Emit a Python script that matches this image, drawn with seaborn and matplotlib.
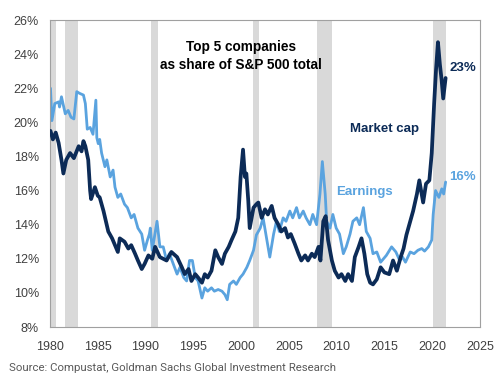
import numpy as np
import pandas as pd
import seaborn as sns
from matplotlib import pyplot as plt

# Top 5 companies as share of S&P 500 total (%)
mcap_year = [1980.05, 1980.3, 1980.6, 1980.9, 1981.2, 1981.4, 1981.7, 1982.1, 1982.5, 1983.0,
             1983.3, 1983.5, 1983.7, 1984.0, 1984.2, 1984.3, 1984.7, 1985.0, 1985.2, 1985.6,
             1986.1, 1986.5, 1986.8, 1987.1, 1987.3, 1987.8, 1988.2, 1988.5, 1988.9, 1989.2,
             1989.6, 1989.9, 1990.3, 1990.7, 1991.0, 1991.5, 1992.2, 1992.7, 1993.3, 1993.8,
             1994.1, 1994.5, 1994.8, 1995.2, 1995.5, 1995.9, 1996.2, 1996.5, 1996.9, 1997.3,
             1997.6, 1998.0, 1998.3, 1998.7, 1999.0, 1999.4, 1999.7, 1999.95, 2000.2, 2000.4,
             2000.55, 2000.75, 2000.9, 2001.3, 2001.6, 2001.8, 2002.15, 2002.5, 2002.8, 2003.2,
             2003.5, 2003.9, 2004.2, 2004.6, 2004.9, 2005.2, 2005.6, 2006.0, 2006.3, 2006.7,
             2007.0, 2007.4, 2007.7, 2008.1, 2008.3, 2008.6, 2008.85, 2009.1, 2009.5, 2009.8,
             2010.2, 2010.5, 2010.9, 2011.2, 2011.6, 2011.9, 2012.3, 2012.6, 2012.9, 2013.2,
             2013.5, 2013.8, 2014.2, 2014.6, 2015.0, 2015.5, 2015.9, 2016.3, 2016.7, 2017.0,
             2017.3, 2017.7, 2018.0, 2018.4, 2018.65, 2018.9, 2019.05, 2019.35, 2019.7, 2019.95,
             2020.2, 2020.4, 2020.6, 2020.8, 2020.98, 2021.15, 2021.3, 2021.4]
mcap_share = [19.5, 19.0, 19.4, 18.8, 17.8, 17.0, 17.8, 18.2, 17.9, 18.6,
              18.3, 18.9, 18.6, 17.8, 16.0, 15.5, 16.2, 15.7, 15.6, 14.8,
              13.6, 13.2, 12.8, 12.4, 13.2, 13.0, 12.6, 12.8, 12.3, 11.9,
              11.4, 11.7, 12.2, 12.0, 12.7, 12.1, 11.9, 12.4, 12.1, 11.5,
              11.1, 11.4, 10.7, 11.1, 10.9, 10.6, 11.1, 10.9, 11.3, 12.5,
              12.1, 11.7, 12.3, 12.7, 13.1, 13.6, 14.4, 16.8, 18.4, 16.8,
              17.0, 15.4, 13.8, 15.0, 15.2, 15.3, 14.4, 14.9, 14.6, 15.1,
              14.4, 14.0, 13.6, 13.8, 13.25, 13.45, 12.9, 12.3, 11.9, 12.2,
              11.9, 12.3, 12.1, 12.7, 11.9, 14.2, 14.5, 13.1, 11.9, 11.3,
              10.9, 11.1, 10.7, 11.1, 10.7, 12.1, 12.7, 13.2, 12.3, 11.1,
              10.6, 10.5, 10.8, 11.5, 11.2, 11.1, 11.9, 11.3, 12.1, 12.6,
              13.4, 14.2, 14.8, 15.8, 16.6, 15.8, 15.3, 16.4, 16.6, 18.2,
              21.1, 23.1, 24.7, 23.4, 22.5, 21.4, 22.1, 22.6]

earn_year = [1980.05, 1980.2, 1980.5, 1980.9, 1981.0, 1981.2, 1981.6, 1981.9, 1982.2, 1982.5,
             1982.8, 1983.1, 1983.5, 1983.7, 1983.9, 1984.2, 1984.5, 1984.8, 1984.9, 1985.05,
             1985.2, 1985.4, 1985.75, 1985.95, 1986.3, 1986.6, 1986.8, 1987.1, 1987.4, 1987.8,
             1988.1, 1988.5, 1988.8, 1989.2, 1989.6, 1989.9, 1990.2, 1990.4, 1990.5, 1990.7,
             1991.2, 1991.5, 1991.85, 1992.2, 1992.5, 1992.9, 1993.3, 1993.6, 1994.0, 1994.3,
             1994.6, 1994.9, 1995.2, 1995.5, 1995.9, 1996.2, 1996.5, 1996.9, 1997.2, 1997.6,
             1998.0, 1998.3, 1998.55, 1998.8, 1999.2, 1999.5, 1999.9, 2000.2, 2000.6, 2000.9,
             2001.3, 2001.6, 2002.0, 2002.3, 2002.7, 2003.0, 2003.4, 2003.7, 2004.0, 2004.4,
             2004.7, 2005.1, 2005.4, 2005.8, 2006.1, 2006.5, 2006.8, 2007.2, 2007.5, 2007.9,
             2008.25, 2008.5, 2008.8, 2008.95, 2009.3, 2009.6, 2009.95, 2010.3, 2010.7, 2011.0,
             2011.4, 2011.7, 2012.1, 2012.4, 2012.8, 2013.1, 2013.5, 2013.8, 2014.2, 2014.6,
             2015.2, 2015.75, 2016.2, 2016.6, 2016.9, 2017.2, 2017.7, 2018.1, 2018.5, 2018.9,
             2019.2, 2019.6, 2019.95, 2020.1, 2020.35, 2020.7, 2021.0, 2021.2, 2021.4]
earn_share = [22.0, 20.1, 21.1, 21.2, 20.9, 21.5, 20.5, 20.7, 20.3, 20.2,
              21.8, 21.7, 21.6, 21.1, 19.6, 19.7, 19.3, 21.3, 19.1, 18.75,
              19.0, 18.2, 17.4, 17.8, 16.8, 17.2, 16.2, 15.6, 15.8, 15.2,
              15.0, 14.4, 14.6, 13.8, 13.45, 12.5, 13.1, 13.45, 13.8, 12.5,
              14.2, 12.7, 12.7, 11.9, 12.3, 11.7, 11.1, 11.5, 10.9, 10.7,
              11.9, 11.9, 10.9, 10.7, 9.7, 10.3, 10.1, 10.3, 10.1, 10.2,
              10.1, 9.9, 9.6, 10.5, 10.7, 10.5, 10.9, 11.1, 11.5, 11.9,
              12.5, 13.4, 13.8, 14.4, 13.1, 12.1, 13.45, 14.2, 13.6, 14.4,
              14.2, 14.8, 14.4, 15.0, 14.4, 14.8, 14.4, 14.0, 14.6, 14.0,
              15.8, 17.7, 15.8, 14.2, 13.8, 14.6, 13.8, 13.45, 12.3, 12.7,
              13.45, 14.2, 14.4, 14.0, 15.0, 13.6, 13.2, 12.3, 12.4, 11.8,
              12.2, 12.7, 12.4, 11.9, 12.1, 11.8, 12.4, 12.3, 12.5, 12.6,
              12.45, 12.7, 13.1, 14.6, 16.0, 15.6, 16.1, 15.8, 16.5]

# recessions (shaded)
rec_start = [1980.0, 1981.6, 1990.6, 2001.2, 2007.95, 2020.1]
rec_end = [1980.6, 1982.9, 1991.3, 2001.9, 2009.5, 2021.4]

x_ticks = list(range(1980, 2030, 5))
y_ticks = list(range(8, 28, 2))

navy = "#0c2b57"
light = "#5aa3df"

df = pd.concat([
    pd.DataFrame({"Year": mcap_year, "Share": mcap_share, "Series": "Market cap"}),
    pd.DataFrame({"Year": earn_year, "Share": earn_share, "Series": "Earnings"}),
])

sns.set_style("white")
plt.rcParams["font.family"] = ["Liberation Sans", "DejaVu Sans"]

fig = plt.figure(figsize=(5, 3.85), dpi=100)
ax = fig.add_axes([0.1, 0.1506, 0.86, 0.7974])

for s, e in zip(rec_start, rec_end):
    ax.axvspan(s, e, color="#d9d9d9", lw=0, zorder=0)

sns.lineplot(data=df[df.Series == "Earnings"], x="Year", y="Share", color=light,
             lw=2.0, estimator=None, sort=False, ax=ax, zorder=2)
sns.lineplot(data=df[df.Series == "Market cap"], x="Year", y="Share", color=navy,
             lw=2.7, estimator=None, sort=False, ax=ax, zorder=3)

ax.set_xlim(1980, 2025)
ax.set_ylim(8, 26)
ax.set_xticks(x_ticks)
ax.set_yticks(y_ticks)
ax.set_yticklabels([f"{v}%" for v in y_ticks])
ax.set_xlabel("")
ax.set_ylabel("")
ax.tick_params(axis="both", direction="out", length=4, width=0.8, color="#a0a0a0",
               labelsize=9, labelcolor="#404040", pad=4)
ax.tick_params(axis="x", pad=6)
for sp in ax.spines.values():
    sp.set_color("#a0a0a0")
    sp.set_linewidth(0.8)

ax.text(2000.0, 23.9, "Top 5 companies\nas share of S&P 500 total", ha="center", va="center",
        fontsize=9.8, fontweight="bold", color="black", linespacing=1.4)
ax.text(2015.0, 19.6, "Market cap", ha="center", va="center", fontsize=9.5,
        fontweight="bold", color=navy)
ax.text(2021.8, 23.2, "23%", ha="left", va="center", fontsize=9.5, fontweight="bold", color=navy)
ax.text(2012.9, 15.9, "Earnings", ha="center", va="center", fontsize=9.5,
        fontweight="bold", color=light)
ax.text(2021.8, 16.8, "16%", ha="left", va="center", fontsize=9.5, fontweight="bold", color=light)

fig.text(0.018, 0.044, "Source: Compustat, Goldman Sachs Global Investment Research",
         ha="left", va="center", fontsize=8.2, color="#595959",
         family=["Roboto", "DejaVu Sans"])

fig.savefig("out.png", dpi=100)
